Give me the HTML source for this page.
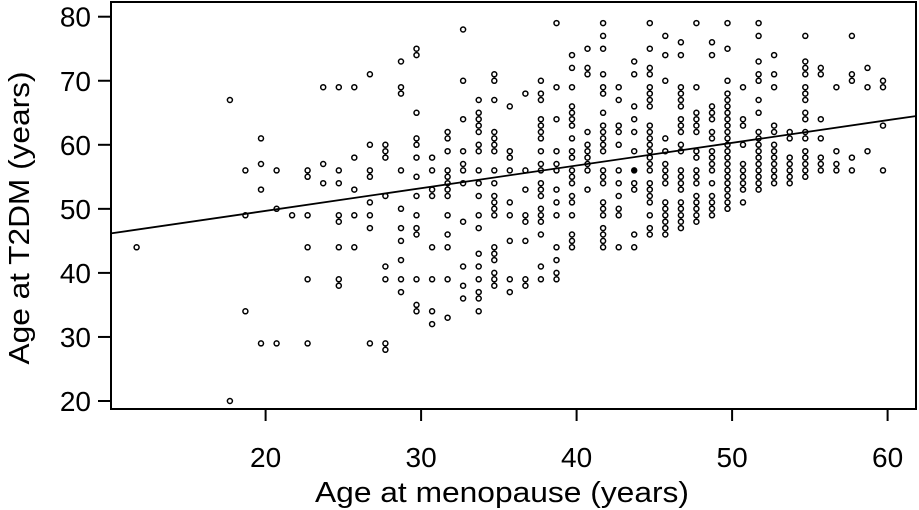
<!DOCTYPE html>
<html><head><meta charset="utf-8"><style>
html,body{margin:0;padding:0;background:#fff;}
svg{display:block;font-family:"Liberation Sans",sans-serif;}
</style></head><body>
<svg id="chart" width="919" height="510" viewBox="0 0 919 510" xmlns="http://www.w3.org/2000/svg">
<rect x="0" y="0" width="919" height="510" fill="#fff"/>
<g id="points"></g>
<line id="regline" stroke="#000" stroke-width="1.8"/>
<rect x="111" y="2" width="805" height="407" fill="none" stroke="#000" stroke-width="2"/>
<g id="xaxis"></g>
<g id="yaxis"></g>
<text x="502" y="502" text-anchor="middle" font-size="29" textLength="374" lengthAdjust="spacingAndGlyphs">Age at menopause (years)</text>
<text transform="translate(29,218) rotate(-90)" text-anchor="middle" font-size="29" textLength="293" lengthAdjust="spacingAndGlyphs">Age at T2DM (years)</text>
</svg>
<script>
const colAges=[12,18,19,20,21,22,23,24,25,26,27,28,29,30,31,32,33,34,35,36,37,38,39,40,41,42,43,44,45,46,47,48,49,50,51,52,53,54,55,56,57,58,59,60];
const colValues=[
[44],[67,20],[56,49,34],[61,57,53,29],[56,50,29],[49],[56,55,49,44,39,29],[69,57,54],
[69,56,54,49,48,44,39,38],[69,58,53,49,44],[71,60,56,55,51,49,47,29],[60,59,58,52,41,39,29,28],
[73,69,68,56,50,47,45,42,39,37],[75,74,65,61,60,58,55,52,49,47,46,39,35,34],
[58,56,53,52,44,39,34,32],[62,61,59,56,55,54,53,52,49,46,44,39,33],
[78,70,64,59,57,56,54,48,41,38,36],[67,65,64,63,62,60,59,56,54,52,49,47,43,41,39,37,36,34],
[71,70,67,62,61,60,59,56,54,52,51,50,49,44,43,42,40,39,38],[66,59,58,56,51,49,45,39,37],
[68,56,53,49,48,45,39,38],[70,68,67,64,63,62,61,59,57,56,54,53,52,50,49,48,46,41,39],
[79,69,64,59,57,56,53,51,49,44,42,40,39],[74,72,69,66,65,64,63,61,59,58,56,55,54,52,51,49,46,45,44],
[75,72,71,62,60,59,58,57,56,53],[79,77,75,71,69,68,65,63,62,61,60,59,56,55,54,51,50,49,47,46,45,44],
[69,67,63,62,60,56,54,52,50,49,44],[73,71,66,64,62,59,56,54,53,46,44],
[79,75,72,71,69,68,67,66,63,62,61,60,59,58,57,56,54,53,52,51,49,47,46],
[77,74,70,61,59,57,56,55,54,51,50,49,48,47,46],
[76,74,69,68,67,66,64,63,62,60,59,56,55,54,53,51,50,49,48,47],
[79,69,65,64,63,62,59,58,56,55,54,52,51,50,49,48],
[76,74,66,65,64,62,61,59,58,57,56,54,52,51,50,49],
[79,75,70,68,67,66,65,64,63,62,61,60,59,58,57,56,55,54,53,52,51,50],
[69,64,63,60,57,56,55,54,53,51],[79,77,73,71,70,67,65,62,61,60,59,58,57,56,55,54,53],
[74,71,69,63,62,60,59,58,57,56,55,54],[62,61,58,57,56,55,54],
[77,73,72,71,69,68,67,65,64,62,61,59,58,57,56,55],[72,71,64,61,58,57,56],
[69,59,57,56],[77,71,70,58,56],[72,69,59],[70,69,63,56]
];
const filledPoint=[44,56];
const xTicks=[20,30,40,50,60];
const yTicks=[20,30,40,50,60,70,80];
const regSlope=0.354, regIntercept=42.5;
const xDomain=[10.35,62.1];

const NS="http://www.w3.org/2000/svg";
function x(v){return 261+(v-20)*15.55;}
function y(v){return 401-(v-20)*6.405;}
const tickShift=4.6;
function mk(tag,attrs,parent){const e=document.createElementNS(NS,tag);for(const k in attrs)e.setAttribute(k,attrs[k]);parent.appendChild(e);return e;}

const pg=document.getElementById('points');
colAges.forEach((a,i)=>{
  colValues[i].forEach(v=>{
    const filled=(a===filledPoint[0]&&v===filledPoint[1]);
    const c=mk('circle',{cx:x(a).toFixed(1),cy:y(v).toFixed(1),r:2.5,fill:filled?'#000':'none',stroke:'#000','stroke-width':1.5},pg);
    
    
  });
});
const rl=document.getElementById('regline');
rl.setAttribute('x1',x(xDomain[0]));rl.setAttribute('y1',y(regSlope*xDomain[0]+regIntercept));
rl.setAttribute('x2',x(xDomain[1]));rl.setAttribute('y2',y(regSlope*xDomain[1]+regIntercept));

const xa=document.getElementById('xaxis');
xTicks.forEach(t=>{
  const px=x(t)+tickShift;
  const l=mk('line',{x1:px,x2:px,y1:409,y2:421,stroke:'#000','stroke-width':2},xa);
  
  
  const tx=mk('text',{x:px,y:467,'text-anchor':'middle','font-size':28},xa);
  tx.textContent=t;
  
  
});
const ya=document.getElementById('yaxis');
yTicks.forEach(t=>{
  const py=y(t);
  const l=mk('line',{x1:98,x2:111,y1:py,y2:py,stroke:'#000','stroke-width':2},ya);
  
  
  const tx=mk('text',{x:91,y:py+10,'text-anchor':'end','font-size':28},ya);
  tx.textContent=t;
  
  
});
</script>
</body></html>
